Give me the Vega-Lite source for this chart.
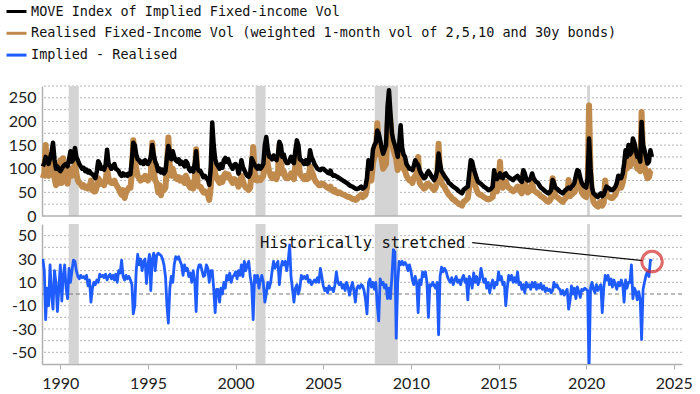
{
"$schema": "https://vega.github.io/schema/vega-lite/v6.json",
"background": "white",
"padding": {"left": 5, "top": 0, "right": 0, "bottom": 0},
"spacing": 0,
"config": {
 "view": {"stroke": null},
 "axis": {"labelFont": "Lato", "labelFontSize": 16, "labelColor": "#222", "domainColor": "#b0b0b0", "domainWidth": 1.5, "tickColor": "#b0b0b0", "title": null, "grid": false, "labelOverlap": false, "tickCount": 50},
 "legend": {"symbolType": "stroke", "symbolStrokeWidth": 3, "symbolSize": 400, "labelFont": "DejaVu Sans Mono", "labelFontSize": 13.5, "labelColor": "#111", "labelOffset": 3, "rowPadding": 3.8, "labelLimit": 0}
},
"datasets": {
 "rec": [{"d":"1990-06-25","d2":"1991-01-20"},{"d":"2001-02-20","d2":"2001-09-15"},{"d":"2007-12-10","d2":"2009-04-05"},{"d":"2020-01-20","d2":"2020-03-20"}],
 "zero": [{"v": 0}],
 "gt": [{"v":25},{"v":50},{"v":75},{"v":100},{"v":125},{"v":150},{"v":175},{"v":200},{"v":225},{"v":250},{"v":275}],
 "gb": [{"v":-50},{"v":-40},{"v":-30},{"v":-20},{"v":-10},{"v":10},{"v":20},{"v":30},{"v":40},{"v":50}],
 "txt": [{"d":"2001-05-25","v":44,"t":"Historically stretched"}],
 "lnk": [{"d":"2013-07-01","v":44,"d2":"2023-03-25","v2":28.6}],
 "cir": [{"d":"2023-10-05","v":27.8}],
 "v": [
{"d":"1989-01","m":105,"r":80,"s":30},{"d":"1989-02","m":112,"r":90,"s":20},{"d":"1989-03","m":125,"r":150,"s":-22},{"d":"1989-04","m":118,"r":95,"s":5},{"d":"1989-05","m":110,"r":85,"s":-10},{"d":"1989-06","m":122,"r":88,"s":25},{"d":"1989-07","m":135,"r":110,"s":0},{"d":"1989-08","m":155,"r":120,"s":-13},{"d":"1989-09","m":120,"r":80,"s":20},{"d":"1989-10","m":100,"r":65,"s":10},{"d":"1989-11","m":105,"r":75,"s":-15},{"d":"1989-12","m":98,"r":70,"s":5},
{"d":"1990-01","m":95,"r":118,"s":25},{"d":"1990-02","m":100,"r":70,"s":-6},{"d":"1990-03","m":105,"r":122,"s":15},{"d":"1990-04","m":108,"r":75,"s":25},{"d":"1990-05","m":110,"r":110,"s":5},{"d":"1990-06","m":105,"r":68,"s":-4},{"d":"1990-07","m":120,"r":90,"s":22},{"d":"1990-08","m":137,"r":100,"s":10},{"d":"1990-09","m":115,"r":85,"s":20},{"d":"1990-10","m":120,"r":95,"s":29},{"d":"1990-11","m":144,"r":110,"s":28},{"d":"1990-12","m":125,"r":90,"s":20},
{"d":"1991-01","m":118,"r":75,"s":15},{"d":"1991-02","m":110,"r":70,"s":13},{"d":"1991-03","m":105,"r":68,"s":16},{"d":"1991-04","m":100,"r":62,"s":14},{"d":"1991-05","m":102,"r":65,"s":15},{"d":"1991-06","m":95,"r":60,"s":13},{"d":"1991-07","m":98,"r":62,"s":16},{"d":"1991-08","m":92,"r":58,"s":7},{"d":"1991-09","m":95,"r":60,"s":12},{"d":"1991-10","m":90,"r":75,"s":-7},{"d":"1991-11","m":88,"r":55,"s":5},{"d":"1991-12","m":85,"r":52,"s":10},
{"d":"1992-01","m":80,"r":52,"s":8},{"d":"1992-02","m":95,"r":62,"s":12},{"d":"1992-03","m":116,"r":80,"s":10},{"d":"1992-04","m":110,"r":75,"s":17},{"d":"1992-05","m":100,"r":68,"s":15},{"d":"1992-06","m":102,"r":70,"s":16},{"d":"1992-07","m":98,"r":65,"s":14},{"d":"1992-08","m":108,"r":75,"s":17},{"d":"1992-09","m":140,"r":100,"s":12},{"d":"1992-10","m":112,"r":80,"s":15},{"d":"1992-11","m":105,"r":72,"s":17},{"d":"1992-12","m":100,"r":70,"s":13},
{"d":"1993-01","m":105,"r":70,"s":16},{"d":"1993-02","m":110,"r":75,"s":12},{"d":"1993-03","m":100,"r":68,"s":17},{"d":"1993-04","m":98,"r":62,"s":10},{"d":"1993-05","m":95,"r":58,"s":20},{"d":"1993-06","m":88,"r":50,"s":18},{"d":"1993-07","m":85,"r":45,"s":29},{"d":"1993-08","m":90,"r":55,"s":15},{"d":"1993-09","m":86,"r":38,"s":12},{"d":"1993-10","m":88,"r":50,"s":16},{"d":"1993-11","m":85,"r":55,"s":13},{"d":"1993-12","m":90,"r":60,"s":15},
{"d":"1994-01","m":88,"r":60,"s":12},{"d":"1994-02","m":120,"r":90,"s":8},{"d":"1994-03","m":155,"r":160,"s":-17},{"d":"1994-04","m":150,"r":120,"s":-10},{"d":"1994-05","m":130,"r":100,"s":20},{"d":"1994-06","m":120,"r":85,"s":34},{"d":"1994-07","m":118,"r":80,"s":25},{"d":"1994-08","m":112,"r":75,"s":30},{"d":"1994-09","m":115,"r":80,"s":20},{"d":"1994-10","m":110,"r":78,"s":28},{"d":"1994-11","m":118,"r":85,"s":30},{"d":"1994-12","m":112,"r":78,"s":9},
{"d":"1995-01","m":110,"r":75,"s":25},{"d":"1995-02","m":116,"r":80,"s":34},{"d":"1995-03","m":125,"r":90,"s":3},{"d":"1995-04","m":150,"r":155,"s":30},{"d":"1995-05","m":130,"r":95,"s":35},{"d":"1995-06","m":115,"r":75,"s":20},{"d":"1995-07","m":108,"r":70,"s":33},{"d":"1995-08","m":95,"r":50,"s":35},{"d":"1995-09","m":100,"r":65,"s":34},{"d":"1995-10","m":92,"r":44,"s":33},{"d":"1995-11","m":98,"r":60,"s":30},{"d":"1995-12","m":90,"r":55,"s":25},
{"d":"1996-01","m":95,"r":60,"s":15},{"d":"1996-02","m":125,"r":105,"s":-10},{"d":"1996-03","m":148,"r":166,"s":-25},{"d":"1996-04","m":135,"r":110,"s":5},{"d":"1996-05","m":120,"r":85,"s":15},{"d":"1996-06","m":137,"r":100,"s":10},{"d":"1996-07","m":125,"r":88,"s":25},{"d":"1996-08","m":118,"r":80,"s":32},{"d":"1996-09","m":115,"r":78,"s":30},{"d":"1996-10","m":120,"r":82,"s":32},{"d":"1996-11","m":110,"r":75,"s":28},{"d":"1996-12","m":115,"r":80,"s":25},
{"d":"1997-01","m":110,"r":75,"s":16},{"d":"1997-02","m":105,"r":70,"s":25},{"d":"1997-03","m":116,"r":85,"s":20},{"d":"1997-04","m":112,"r":78,"s":22},{"d":"1997-05","m":100,"r":65,"s":15},{"d":"1997-06","m":95,"r":60,"s":18},{"d":"1997-07","m":100,"r":70,"s":10},{"d":"1997-08","m":94,"r":58,"s":20},{"d":"1997-09","m":110,"r":75,"s":12},{"d":"1997-10","m":137,"r":141,"s":-15},{"d":"1997-11","m":100,"r":65,"s":20},{"d":"1997-12","m":95,"r":62,"s":25},
{"d":"1998-01","m":95,"r":62,"s":25},{"d":"1998-02","m":88,"r":55,"s":20},{"d":"1998-03","m":82,"r":50,"s":15},{"d":"1998-04","m":85,"r":52,"s":16},{"d":"1998-05","m":80,"r":48,"s":25},{"d":"1998-06","m":78,"r":45,"s":22},{"d":"1998-07","m":66,"r":34,"s":10},{"d":"1998-08","m":100,"r":60,"s":20},{"d":"1998-09","m":198,"r":120,"s":20},{"d":"1998-10","m":150,"r":110,"s":5},{"d":"1998-11","m":120,"r":90,"s":-16},{"d":"1998-12","m":110,"r":80,"s":4},
{"d":"1999-01","m":105,"r":75,"s":4},{"d":"1999-02","m":100,"r":70,"s":-7},{"d":"1999-03","m":110,"r":80,"s":5},{"d":"1999-04","m":102,"r":72,"s":0},{"d":"1999-05","m":118,"r":85,"s":10},{"d":"1999-06","m":123,"r":90,"s":5},{"d":"1999-07","m":115,"r":82,"s":16},{"d":"1999-08","m":120,"r":88,"s":12},{"d":"1999-09","m":110,"r":80,"s":18},{"d":"1999-10","m":105,"r":75,"s":10},{"d":"1999-11","m":100,"r":70,"s":15},{"d":"1999-12","m":108,"r":78,"s":16},
{"d":"2000-01","m":110,"r":76,"s":19},{"d":"2000-02","m":105,"r":70,"s":13},{"d":"2000-03","m":90,"r":62,"s":20},{"d":"2000-04","m":100,"r":72,"s":16},{"d":"2000-05","m":118,"r":85,"s":25},{"d":"2000-06","m":104,"r":75,"s":15},{"d":"2000-07","m":97,"r":65,"s":28},{"d":"2000-08","m":90,"r":60,"s":20},{"d":"2000-09","m":85,"r":58,"s":25},{"d":"2000-10","m":83,"r":55,"s":28},{"d":"2000-11","m":90,"r":60,"s":15},{"d":"2000-12","m":122,"r":95,"s":8},
{"d":"2001-01","m":115,"r":146,"s":-22},{"d":"2001-02","m":108,"r":90,"s":16},{"d":"2001-03","m":104,"r":76,"s":10},{"d":"2001-04","m":100,"r":75,"s":16},{"d":"2001-05","m":106,"r":80,"s":5},{"d":"2001-06","m":100,"r":76,"s":12},{"d":"2001-07","m":104,"r":80,"s":16},{"d":"2001-08","m":110,"r":85,"s":10},{"d":"2001-09","m":150,"r":110,"s":-7},{"d":"2001-10","m":167,"r":140,"s":0},{"d":"2001-11","m":140,"r":110,"s":10},{"d":"2001-12","m":125,"r":95,"s":5},
{"d":"2002-01","m":125,"r":85,"s":10},{"d":"2002-02","m":120,"r":80,"s":20},{"d":"2002-03","m":128,"r":88,"s":28},{"d":"2002-04","m":122,"r":83,"s":22},{"d":"2002-05","m":118,"r":78,"s":25},{"d":"2002-06","m":130,"r":90,"s":28},{"d":"2002-07","m":157,"r":150,"s":8},{"d":"2002-08","m":150,"r":120,"s":22},{"d":"2002-09","m":125,"r":90,"s":28},{"d":"2002-10","m":130,"r":95,"s":25},{"d":"2002-11","m":118,"r":82,"s":28},{"d":"2002-12","m":112,"r":80,"s":20},
{"d":"2003-01","m":112,"r":80,"s":28},{"d":"2003-02","m":118,"r":85,"s":42},{"d":"2003-03","m":125,"r":90,"s":15},{"d":"2003-04","m":115,"r":82,"s":4},{"d":"2003-05","m":112,"r":78,"s":-7},{"d":"2003-06","m":140,"r":110,"s":5},{"d":"2003-07","m":160,"r":130,"s":8},{"d":"2003-08","m":150,"r":125,"s":0},{"d":"2003-09","m":120,"r":90,"s":5},{"d":"2003-10","m":118,"r":85,"s":16},{"d":"2003-11","m":115,"r":82,"s":13},{"d":"2003-12","m":110,"r":78,"s":15},
{"d":"2004-01","m":118,"r":85,"s":13},{"d":"2004-02","m":110,"r":78,"s":16},{"d":"2004-03","m":112,"r":80,"s":10},{"d":"2004-04","m":139,"r":105,"s":12},{"d":"2004-05","m":125,"r":95,"s":8},{"d":"2004-06","m":118,"r":88,"s":10},{"d":"2004-07","m":110,"r":78,"s":12},{"d":"2004-08","m":105,"r":72,"s":10},{"d":"2004-09","m":100,"r":70,"s":14},{"d":"2004-10","m":98,"r":65,"s":10},{"d":"2004-11","m":97,"r":65,"s":22},{"d":"2004-12","m":100,"r":68,"s":15},
{"d":"2005-01","m":100,"r":68,"s":7},{"d":"2005-02","m":97,"r":65,"s":3},{"d":"2005-03","m":95,"r":62,"s":5},{"d":"2005-04","m":92,"r":60,"s":1},{"d":"2005-05","m":90,"r":58,"s":7},{"d":"2005-06","m":96,"r":62,"s":4},{"d":"2005-07","m":88,"r":55,"s":5},{"d":"2005-08","m":85,"r":52,"s":2},{"d":"2005-09","m":86,"r":55,"s":8},{"d":"2005-10","m":84,"r":50,"s":19},{"d":"2005-11","m":82,"r":48,"s":10},{"d":"2005-12","m":80,"r":50,"s":8},
{"d":"2006-01","m":78,"r":48,"s":10},{"d":"2006-02","m":76,"r":46,"s":5},{"d":"2006-03","m":74,"r":45,"s":8},{"d":"2006-04","m":72,"r":44,"s":3},{"d":"2006-05","m":70,"r":42,"s":10},{"d":"2006-06","m":68,"r":40,"s":6},{"d":"2006-07","m":65,"r":40,"s":-1},{"d":"2006-08","m":63,"r":38,"s":5},{"d":"2006-09","m":62,"r":36,"s":10},{"d":"2006-10","m":60,"r":36,"s":3},{"d":"2006-11","m":58,"r":34,"s":-7},{"d":"2006-12","m":57,"r":35,"s":5},
{"d":"2007-01","m":58,"r":40,"s":7},{"d":"2007-02","m":60,"r":42,"s":5},{"d":"2007-03","m":62,"r":45,"s":8},{"d":"2007-04","m":58,"r":40,"s":7},{"d":"2007-05","m":60,"r":42,"s":3},{"d":"2007-06","m":63,"r":45,"s":-5},{"d":"2007-07","m":80,"r":60,"s":-17},{"d":"2007-08","m":118,"r":95,"s":10},{"d":"2007-09","m":105,"r":80,"s":13},{"d":"2007-10","m":100,"r":75,"s":6},{"d":"2007-11","m":140,"r":110,"s":10},{"d":"2007-12","m":150,"r":125,"s":4},
{"d":"2008-01","m":155,"r":130,"s":10},{"d":"2008-02","m":181,"r":196,"s":-10},{"d":"2008-03","m":175,"r":150,"s":-23},{"d":"2008-04","m":160,"r":135,"s":13},{"d":"2008-05","m":145,"r":120,"s":8},{"d":"2008-06","m":132,"r":100,"s":10},{"d":"2008-07","m":140,"r":105,"s":5},{"d":"2008-08","m":150,"r":110,"s":8},{"d":"2008-09","m":230,"r":190,"s":-4},{"d":"2008-10","m":266,"r":220,"s":5},{"d":"2008-11","m":217,"r":200,"s":-4},{"d":"2008-12","m":175,"r":160,"s":15},
{"d":"2009-01","m":160,"r":140,"s":38},{"d":"2009-02","m":150,"r":130,"s":36},{"d":"2009-03","m":140,"r":120,"s":-38},{"d":"2009-04","m":125,"r":97,"s":10},{"d":"2009-05","m":150,"r":110,"s":28},{"d":"2009-06","m":192,"r":160,"s":25},{"d":"2009-07","m":145,"r":120,"s":28},{"d":"2009-08","m":130,"r":100,"s":25},{"d":"2009-09","m":125,"r":95,"s":27},{"d":"2009-10","m":110,"r":85,"s":25},{"d":"2009-11","m":105,"r":80,"s":20},{"d":"2009-12","m":100,"r":75,"s":25},
{"d":"2010-01","m":100,"r":75,"s":20},{"d":"2010-02","m":97,"r":70,"s":12},{"d":"2010-03","m":105,"r":80,"s":8},{"d":"2010-04","m":118,"r":85,"s":15},{"d":"2010-05","m":112,"r":90,"s":10},{"d":"2010-06","m":108,"r":125,"s":-16},{"d":"2010-07","m":97,"r":70,"s":12},{"d":"2010-08","m":90,"r":65,"s":8},{"d":"2010-09","m":85,"r":62,"s":19},{"d":"2010-10","m":80,"r":58,"s":15},{"d":"2010-11","m":82,"r":60,"s":19},{"d":"2010-12","m":90,"r":68,"s":10},
{"d":"2011-01","m":95,"r":68,"s":-20},{"d":"2011-02","m":90,"r":65,"s":8},{"d":"2011-03","m":85,"r":62,"s":7},{"d":"2011-04","m":80,"r":58,"s":10},{"d":"2011-05","m":76,"r":55,"s":7},{"d":"2011-06","m":82,"r":60,"s":5},{"d":"2011-07","m":95,"r":75,"s":10},{"d":"2011-08","m":132,"r":153,"s":-35},{"d":"2011-09","m":110,"r":85,"s":15},{"d":"2011-10","m":95,"r":70,"s":23},{"d":"2011-11","m":90,"r":65,"s":19},{"d":"2011-12","m":85,"r":62,"s":22},
{"d":"2012-01","m":80,"r":55,"s":20},{"d":"2012-02","m":76,"r":50,"s":15},{"d":"2012-03","m":70,"r":45,"s":12},{"d":"2012-04","m":68,"r":42,"s":10},{"d":"2012-05","m":65,"r":38,"s":14},{"d":"2012-06","m":62,"r":35,"s":8},{"d":"2012-07","m":60,"r":34,"s":12},{"d":"2012-08","m":58,"r":30,"s":15},{"d":"2012-09","m":55,"r":28,"s":10},{"d":"2012-10","m":52,"r":25,"s":12},{"d":"2012-11","m":50,"r":24,"s":8},{"d":"2012-12","m":48,"r":22,"s":13},
{"d":"2013-01","m":55,"r":30,"s":16},{"d":"2013-02","m":58,"r":32,"s":10},{"d":"2013-03","m":60,"r":35,"s":13},{"d":"2013-04","m":62,"r":38,"s":-5},{"d":"2013-05","m":90,"r":60,"s":15},{"d":"2013-06","m":118,"r":90,"s":12},{"d":"2013-07","m":115,"r":100,"s":5},{"d":"2013-08","m":100,"r":80,"s":18},{"d":"2013-09","m":90,"r":65,"s":10},{"d":"2013-10","m":80,"r":55,"s":15},{"d":"2013-11","m":72,"r":48,"s":8},{"d":"2013-12","m":70,"r":45,"s":12},
{"d":"2014-01","m":68,"r":45,"s":22},{"d":"2014-02","m":65,"r":42,"s":15},{"d":"2014-03","m":62,"r":40,"s":10},{"d":"2014-04","m":60,"r":38,"s":13},{"d":"2014-05","m":58,"r":36,"s":5},{"d":"2014-06","m":55,"r":35,"s":10},{"d":"2014-07","m":56,"r":36,"s":1},{"d":"2014-08","m":58,"r":38,"s":8},{"d":"2014-09","m":62,"r":40,"s":12},{"d":"2014-10","m":97,"r":70,"s":5},{"d":"2014-11","m":80,"r":55,"s":10},{"d":"2014-12","m":78,"r":52,"s":8},
{"d":"2015-01","m":85,"r":70,"s":19},{"d":"2015-02","m":90,"r":115,"s":12},{"d":"2015-03","m":82,"r":65,"s":15},{"d":"2015-04","m":80,"r":60,"s":8},{"d":"2015-05","m":88,"r":70,"s":10},{"d":"2015-06","m":90,"r":72,"s":-10},{"d":"2015-07","m":85,"r":65,"s":5},{"d":"2015-08","m":82,"r":60,"s":16},{"d":"2015-09","m":80,"r":58,"s":12},{"d":"2015-10","m":78,"r":55,"s":16},{"d":"2015-11","m":76,"r":52,"s":10},{"d":"2015-12","m":80,"r":55,"s":14},
{"d":"2016-01","m":82,"r":58,"s":10},{"d":"2016-02","m":85,"r":62,"s":19},{"d":"2016-03","m":80,"r":60,"s":8},{"d":"2016-04","m":75,"r":52,"s":10},{"d":"2016-05","m":72,"r":48,"s":4},{"d":"2016-06","m":97,"r":90,"s":8},{"d":"2016-07","m":90,"r":75,"s":1},{"d":"2016-08","m":78,"r":55,"s":10},{"d":"2016-09","m":75,"r":50,"s":6},{"d":"2016-10","m":76,"r":52,"s":8},{"d":"2016-11","m":80,"r":55,"s":4},{"d":"2016-12","m":90,"r":70,"s":10},
{"d":"2017-01","m":80,"r":55,"s":6},{"d":"2017-02","m":75,"r":52,"s":10},{"d":"2017-03","m":72,"r":50,"s":4},{"d":"2017-04","m":70,"r":48,"s":8},{"d":"2017-05","m":65,"r":45,"s":5},{"d":"2017-06","m":60,"r":42,"s":9},{"d":"2017-07","m":58,"r":40,"s":4},{"d":"2017-08","m":55,"r":38,"s":7},{"d":"2017-09","m":52,"r":35,"s":2},{"d":"2017-10","m":50,"r":32,"s":5},{"d":"2017-11","m":48,"r":30,"s":3},{"d":"2017-12","m":50,"r":32,"s":4},
{"d":"2018-01","m":55,"r":38,"s":1},{"d":"2018-02","m":76,"r":80,"s":3},{"d":"2018-03","m":70,"r":55,"s":10},{"d":"2018-04","m":60,"r":42,"s":6},{"d":"2018-05","m":58,"r":40,"s":8},{"d":"2018-06","m":55,"r":38,"s":5},{"d":"2018-07","m":52,"r":35,"s":4},{"d":"2018-08","m":50,"r":32,"s":0},{"d":"2018-09","m":48,"r":30,"s":3},{"d":"2018-10","m":52,"r":35,"s":-1},{"d":"2018-11","m":55,"r":38,"s":2},{"d":"2018-12","m":58,"r":42,"s":4},
{"d":"2019-01","m":60,"r":76,"s":-13},{"d":"2019-02","m":58,"r":42,"s":-5},{"d":"2019-03","m":62,"r":45,"s":7},{"d":"2019-04","m":65,"r":48,"s":0},{"d":"2019-05","m":70,"r":50,"s":5},{"d":"2019-06","m":85,"r":60,"s":-4},{"d":"2019-07","m":97,"r":72,"s":6},{"d":"2019-08","m":95,"r":85,"s":2},{"d":"2019-09","m":80,"r":60,"s":-3},{"d":"2019-10","m":70,"r":50,"s":4},{"d":"2019-11","m":65,"r":45,"s":3},{"d":"2019-12","m":62,"r":42,"s":5},
{"d":"2020-01","m":60,"r":40,"s":4},{"d":"2020-02","m":80,"r":60,"s":3},{"d":"2020-03","m":164,"r":234,"s":-65},{"d":"2020-04","m":100,"r":90,"s":5},{"d":"2020-05","m":60,"r":50,"s":10},{"d":"2020-06","m":48,"r":30,"s":4},{"d":"2020-07","m":45,"r":25,"s":1},{"d":"2020-08","m":42,"r":22,"s":8},{"d":"2020-09","m":40,"r":20,"s":3},{"d":"2020-10","m":45,"r":28,"s":6},{"d":"2020-11","m":48,"r":30,"s":8},{"d":"2020-12","m":42,"r":22,"s":-16},
{"d":"2021-01","m":45,"r":28,"s":5},{"d":"2021-02","m":55,"r":75,"s":16},{"d":"2021-03","m":62,"r":45,"s":12},{"d":"2021-04","m":60,"r":42,"s":16},{"d":"2021-05","m":58,"r":40,"s":8},{"d":"2021-06","m":55,"r":38,"s":13},{"d":"2021-07","m":55,"r":38,"s":6},{"d":"2021-08","m":58,"r":42,"s":12},{"d":"2021-09","m":62,"r":45,"s":8},{"d":"2021-10","m":70,"r":55,"s":4},{"d":"2021-11","m":85,"r":70,"s":10},{"d":"2021-12","m":80,"r":60,"s":7},
{"d":"2022-01","m":80,"r":60,"s":12},{"d":"2022-02","m":90,"r":70,"s":8},{"d":"2022-03","m":110,"r":85,"s":-7},{"d":"2022-04","m":139,"r":110,"s":12},{"d":"2022-05","m":125,"r":100,"s":5},{"d":"2022-06","m":150,"r":125,"s":10},{"d":"2022-07","m":130,"r":105,"s":10},{"d":"2022-08","m":135,"r":110,"s":25},{"d":"2022-09","m":164,"r":140,"s":-4},{"d":"2022-10","m":155,"r":135,"s":5},{"d":"2022-11","m":139,"r":115,"s":2},{"d":"2022-12","m":125,"r":100,"s":-5},
{"d":"2023-01","m":125,"r":100,"s":2},{"d":"2023-02","m":115,"r":95,"s":-5},{"d":"2023-03","m":199,"r":220,"s":-39},{"d":"2023-04","m":150,"r":120,"s":4},{"d":"2023-05","m":139,"r":105,"s":10},{"d":"2023-06","m":125,"r":90,"s":16},{"d":"2023-07","m":111,"r":80,"s":19},{"d":"2023-08","m":115,"r":82,"s":15},{"d":"2023-09","m":139,"r":95,"s":29},{"d":"2023-10","m":125,"r":97,"s":28}
 ]
},
"resolve": {"scale": {"color": "shared"}, "legend": {"color": "shared"}},
"vconcat": [
 {
  "width": 640, "height": 130,
  "layer": [
   {"data": {"name": "gt"}, "mark": {"type": "rule", "color": "#b4b4b4", "strokeDash": [2, 2], "strokeWidth": 1},
    "encoding": {"y": {"field": "v", "type": "quantitative", "scale": {"domain": [0, 275], "nice": false}, "axis": {"values": [0,50,100,150,200,250], "tickCount": 50, "title": null, "ticks": false, "labelPadding": 6, "minExtent": 35, "maxExtent": 35, "grid": false, "labelOverlap": false}}}},
   {"data": {"name": "rec"}, "mark": {"type": "rect", "color": "#d4d4d4"},
    "encoding": {"x": {"field": "d", "type": "temporal", "scale": {"domain": [{"year": 1988, "month": 12, "date": 15}, {"year": 2025, "month": 6, "date": 20}]}, "axis": null}, "x2": {"field": "d2"}}},
   {"data": {"name": "zero"}, "mark": {"type": "rule", "color": "#b0b0b0", "strokeWidth": 1.5},
    "encoding": {"y": {"field": "v", "type": "quantitative"}}},
   {"data": {"name": "v"}, "mark": {"type": "line", "strokeWidth": 6, "strokeJoin": "round"},
    "encoding": {
     "x": {"field": "d", "type": "temporal", "axis": null},
     "y": {"field": "r", "type": "quantitative"},
     "color": {"datum": "r", "type": "nominal", "scale": {"domain": ["m", "r", "s"], "range": ["#000000", "#c08a4c", "#1f5cff"]}, "legend": {"orient": "none", "legendX": -37, "legendY": -86, "direction": "vertical", "title": null, "labelExpr": "datum.value == 'm' ? 'MOVE Index of Implied Fixed-income Vol' : datum.value == 'r' ? 'Realised Fixed-Income Vol (weighted 1-month vol of 2,5,10 and 30y bonds)' : 'Implied - Realised'"}}
    }},
   {"data": {"name": "v"}, "mark": {"type": "line", "strokeWidth": 4.5, "strokeJoin": "round"},
    "encoding": {
     "x": {"field": "d", "type": "temporal", "axis": null},
     "y": {"field": "m", "type": "quantitative"},
     "color": {"datum": "m", "type": "nominal"}
    }}
  ]
 },
 {
  "width": 640, "height": 140,
  "layer": [
   {"data": {"name": "gb"}, "mark": {"type": "rule", "color": "#b4b4b4", "strokeDash": [2, 2], "strokeWidth": 1},
    "encoding": {"y": {"field": "v", "type": "quantitative", "scale": {"domain": [-60, 60], "nice": false}, "axis": {"values": [-50,-30,-10,10,30,50], "tickCount": 50, "labelExpr": "replace(datum.label, '\u2212', '-')", "title": null, "ticks": false, "labelPadding": 6, "minExtent": 35, "maxExtent": 35, "grid": false, "labelOverlap": false}}}},
   {"data": {"name": "rec"}, "mark": {"type": "rect", "color": "#d4d4d4"},
    "encoding": {"x": {"field": "d", "type": "temporal", "scale": {"domain": [{"year": 1988, "month": 12, "date": 15}, {"year": 2025, "month": 6, "date": 20}]}, "axis": {"format": "%Y", "values": [{"year": 1990}, {"year": 1995}, {"year": 2000}, {"year": 2005}, {"year": 2010}, {"year": 2015}, {"year": 2020}, {"year": 2025}], "tickCount": 50, "tickSize": 5, "labelPadding": 6, "grid": false, "title": null, "labelOverlap": false}}, "x2": {"field": "d2"}}},
   {"data": {"name": "zero"}, "mark": {"type": "rule", "color": "#777", "strokeDash": [4, 3], "strokeWidth": 1},
    "encoding": {"y": {"field": "v", "type": "quantitative"}}},
   {"data": {"name": "v"}, "mark": {"type": "line", "strokeWidth": 2.8, "strokeJoin": "round", "clip": true},
    "encoding": {
     "x": {"field": "d", "type": "temporal"},
     "y": {"field": "s", "type": "quantitative"},
     "color": {"datum": "s", "type": "nominal"}
    }},
   {"data": {"name": "lnk"}, "mark": {"type": "rule", "color": "#111", "strokeWidth": 1.2},
    "encoding": {"x": {"field": "d", "type": "temporal"}, "x2": {"field": "d2"}, "y": {"field": "v", "type": "quantitative"}, "y2": {"field": "v2"}}},
   {"data": {"name": "txt"}, "mark": {"type": "text", "align": "left", "baseline": "middle", "font": "DejaVu Sans Mono", "fontSize": 15.5, "color": "#111"},
    "encoding": {"x": {"field": "d", "type": "temporal"}, "y": {"field": "v", "type": "quantitative"}, "text": {"field": "t"}}},
   {"data": {"name": "cir"}, "mark": {"type": "point", "shape": "circle", "filled": false, "size": 420, "strokeWidth": 3, "color": "#d42a2a"},
    "encoding": {"x": {"field": "d", "type": "temporal"}, "y": {"field": "v", "type": "quantitative"}}}
  ]
 }
]
}
